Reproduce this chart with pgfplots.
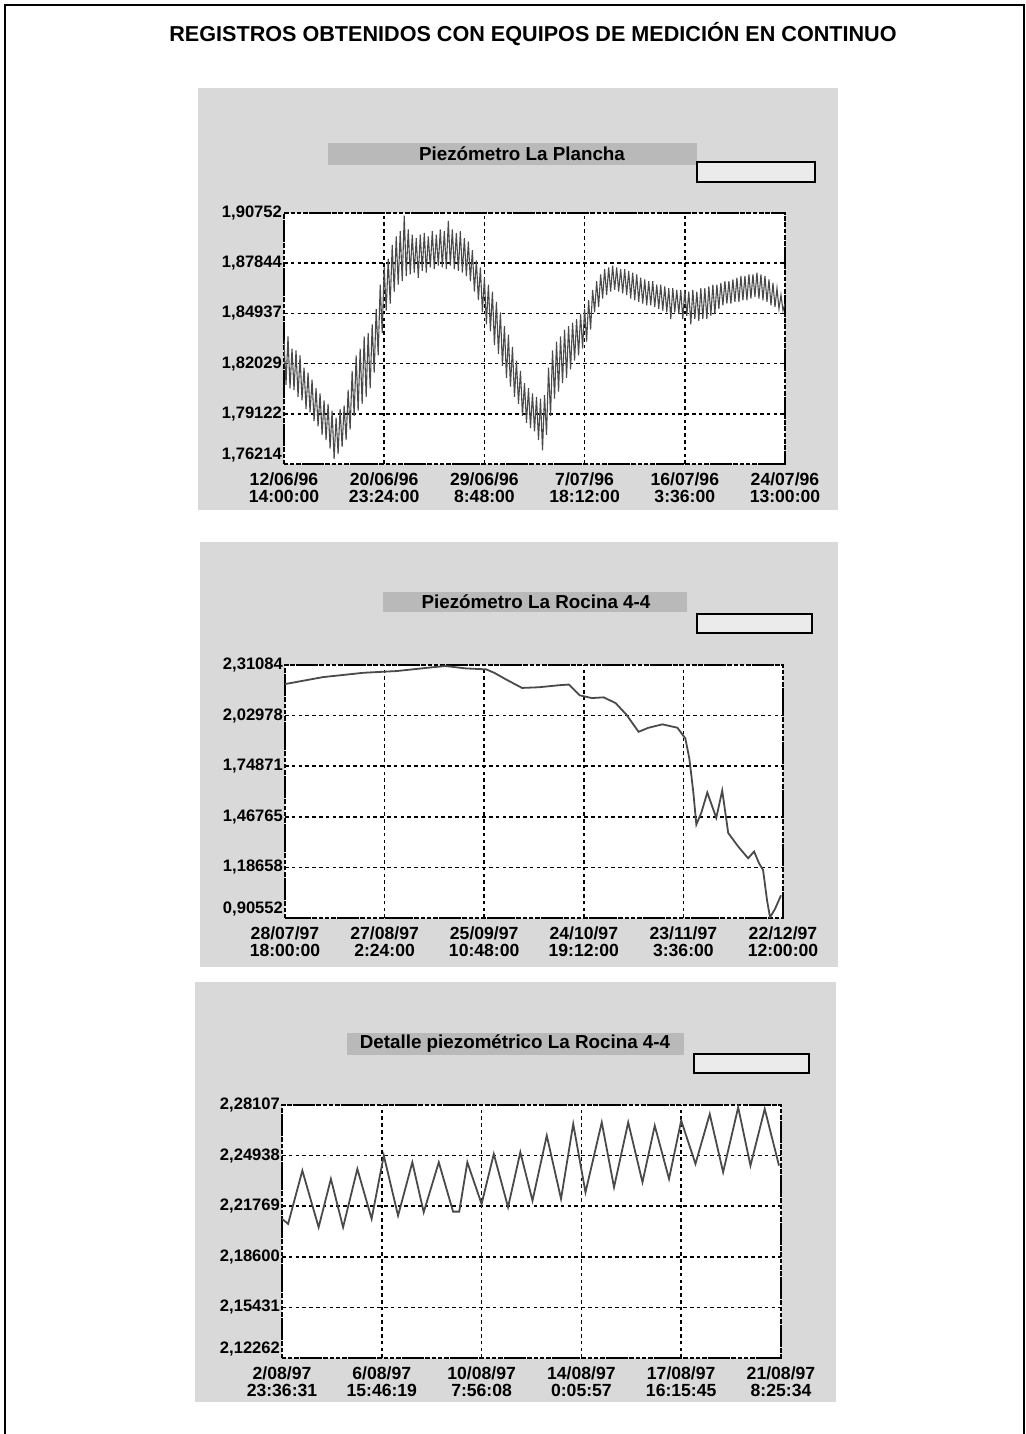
\documentclass[border=0pt]{standalone}
\usepackage{pgfplots}
\pgfplotsset{compat=1.18}
\usepackage{fontspec}
\setmainfont{Liberation Sans}

\definecolor{panelgray}{HTML}{D9D9D9}
\definecolor{bargray}{HTML}{B9B9B9}
\definecolor{boxgray}{HTML}{EBEBEB}
\definecolor{trace}{HTML}{4A4A4A}

\pgfplotsset{
  panel/.style={
    scale only axis, anchor=south west,
    xmin=0, xmax=5, xtick={0,1,2,3,4,5},
    grid=major,
    major grid style={black, line width=0.75pt, dash pattern=on 1.8pt off 1.6pt},
    axis line style={black, line width=1pt, dash pattern=on 2.2pt off 0.8pt},
    major tick length=0pt,
    axis background/.style={fill=white},
    yticklabel style={anchor=east, xshift=2.5pt, font=\bfseries\fontsize{8.3}{8.3}\selectfont},
    xticklabel style={align=center, yshift=-1pt, font=\bfseries\fontsize{8.8}{8.3}\selectfont},
    /pgf/number format/assume math mode=true,
    clip=true,
  },
}

\begin{document}
\begin{tikzpicture}
\useasboundingbox (0,0) rectangle (512.5pt,717pt);
\fill[white] (0,0) rectangle (512.5pt,717pt);
\draw[black, line width=1pt] (2.5pt,0pt) -- (2.5pt,714.5pt) -- (512pt,714.5pt) -- (512pt,0pt);

% main title
\node[font=\bfseries\fontsize{10.8}{12}\selectfont] at (266.5pt,700pt)
  {REGISTROS OBTENIDOS CON EQUIPOS DE MEDICIÓN EN CONTINUO};

% ---------- panel 1 frame ----------
\fill[panelgray] (99pt,462pt) rectangle (419pt,673pt);
\fill[bargray] (164pt,634.5pt) rectangle (348.5pt,645.5pt);
\node[font=\bfseries\fontsize{9.4}{10}\selectfont] at (261pt,640pt) {Piezómetro La Plancha};
\draw[black, line width=0.9pt, fill=boxgray] (348.5pt,626pt) rectangle (407.5pt,636pt);

% ---------- panel 2 frame ----------
\fill[panelgray] (100pt,233.5pt) rectangle (419pt,446pt);
\fill[bargray] (191.5pt,411pt) rectangle (343.5pt,421pt);
\node[font=\bfseries\fontsize{9.4}{10}\selectfont] at (268pt,416pt) {Piezómetro La Rocina 4-4};
\draw[black, line width=0.9pt, fill=boxgray] (348.5pt,400.5pt) rectangle (406pt,410pt);

% ---------- panel 3 frame ----------
\fill[panelgray] (97.5pt,16pt) rectangle (418pt,226pt);
\fill[bargray] (173.5pt,189.5pt) rectangle (342pt,200.5pt);
\node[font=\bfseries\fontsize{9.4}{10}\selectfont] at (257.5pt,195pt) {Detalle piezométrico La Rocina 4-4};
\draw[black, line width=0.9pt, fill=boxgray] (347pt,180.5pt) rectangle (404.5pt,190pt);

% ---------- axis 1 ----------
\begin{axis}[panel, at={(142pt,485pt)}, width=250.5pt, height=125.5pt,
  ymin=1.76214, ymax=1.90752,
  ytick={1.76214,1.79122,1.82029,1.84937,1.87844,1.90752},
  yticklabels={{\raisebox{10pt}{1,76214}},{1,79122},{1,82029},{1,84937},{1,87844},{1,90752}},
  xticklabels={{12/06/96\\14:00:00},{20/06/96\\23:24:00},{29/06/96\\8:48:00},{7/07/96\\18:12:00},{16/07/96\\3:36:00},{24/07/96\\13:00:00}},
]
\addplot[trace, line width=0.55pt] coordinates {
(0.00,1.834) (0.02,1.808) (0.04,1.836) (0.06,1.806) (0.08,1.829) (0.10,1.805)
(0.12,1.828) (0.14,1.801) (0.16,1.825) (0.18,1.799) (0.20,1.818) (0.22,1.794)
(0.24,1.815) (0.26,1.792) (0.28,1.811) (0.30,1.787) (0.32,1.806) (0.34,1.784)
(0.36,1.803) (0.38,1.779) (0.40,1.799) (0.42,1.776) (0.44,1.797) (0.46,1.771)
(0.48,1.793) (0.50,1.765) (0.52,1.789) (0.54,1.768) (0.56,1.794) (0.58,1.772)
(0.60,1.796) (0.62,1.776) (0.64,1.805) (0.66,1.782) (0.68,1.816) (0.70,1.790)
(0.72,1.825) (0.74,1.793) (0.76,1.829) (0.78,1.797) (0.80,1.836) (0.82,1.801)
(0.84,1.838) (0.86,1.806) (0.88,1.843) (0.90,1.815) (0.92,1.852) (0.94,1.825)
(0.96,1.866) (0.98,1.838) (1.00,1.876) (1.02,1.851) (1.04,1.881) (1.06,1.855)
(1.08,1.889) (1.10,1.862) (1.12,1.894) (1.14,1.866) (1.16,1.897) (1.18,1.868)
(1.20,1.906) (1.22,1.871) (1.24,1.898) (1.26,1.872) (1.28,1.895) (1.30,1.873)
(1.32,1.893) (1.34,1.870) (1.36,1.895) (1.38,1.874) (1.40,1.896) (1.42,1.873)
(1.44,1.894) (1.46,1.876) (1.48,1.897) (1.50,1.875) (1.52,1.895) (1.54,1.877)
(1.56,1.898) (1.58,1.876) (1.60,1.897) (1.62,1.875) (1.64,1.903) (1.66,1.877)
(1.68,1.898) (1.70,1.875) (1.72,1.896) (1.74,1.874) (1.76,1.897) (1.78,1.873)
(1.80,1.893) (1.82,1.871) (1.84,1.891) (1.86,1.868) (1.88,1.886) (1.90,1.862)
(1.92,1.880) (1.94,1.857) (1.96,1.876) (1.98,1.850) (2.00,1.870) (2.02,1.843)
(2.04,1.866) (2.06,1.839) (2.08,1.862) (2.10,1.831) (2.12,1.856) (2.14,1.826)
(2.16,1.850) (2.18,1.819) (2.20,1.842) (2.22,1.812) (2.24,1.837) (2.26,1.807)
(2.28,1.830) (2.30,1.801) (2.32,1.822) (2.34,1.797) (2.36,1.816) (2.38,1.790)
(2.40,1.809) (2.42,1.786) (2.44,1.806) (2.46,1.783) (2.48,1.803) (2.50,1.781)
(2.52,1.801) (2.54,1.776) (2.56,1.800) (2.58,1.770) (2.60,1.802) (2.62,1.779)
(2.64,1.818) (2.66,1.790) (2.68,1.828) (2.70,1.800) (2.72,1.833) (2.74,1.804)
(2.76,1.836) (2.78,1.809) (2.80,1.840) (2.82,1.812) (2.84,1.842) (2.86,1.817)
(2.88,1.844) (2.90,1.822) (2.92,1.846) (2.94,1.825) (2.96,1.849) (2.98,1.829)
(3.00,1.852) (3.02,1.833) (3.04,1.857) (3.06,1.840) (3.08,1.863) (3.10,1.850)
(3.12,1.868) (3.14,1.853) (3.16,1.872) (3.18,1.858) (3.20,1.875) (3.22,1.860)
(3.24,1.876) (3.26,1.862) (3.28,1.877) (3.30,1.863) (3.32,1.876) (3.34,1.862)
(3.36,1.875) (3.38,1.861) (3.40,1.875) (3.42,1.860) (3.44,1.874) (3.46,1.858)
(3.48,1.873) (3.50,1.857) (3.52,1.872) (3.54,1.856) (3.56,1.870) (3.58,1.855)
(3.60,1.869) (3.62,1.854) (3.64,1.868) (3.66,1.854) (3.68,1.868) (3.70,1.853)
(3.72,1.866) (3.74,1.852) (3.76,1.866) (3.78,1.851) (3.80,1.865) (3.82,1.850)
(3.84,1.864) (3.86,1.846) (3.88,1.864) (3.90,1.850) (3.92,1.863) (3.94,1.849)
(3.96,1.863) (3.98,1.846) (4.00,1.863) (4.02,1.848) (4.04,1.862) (4.06,1.843)
(4.08,1.863) (4.10,1.846) (4.12,1.862) (4.14,1.845) (4.16,1.864) (4.18,1.846)
(4.20,1.864) (4.22,1.846) (4.24,1.865) (4.26,1.848) (4.28,1.866) (4.30,1.849)
(4.32,1.866) (4.34,1.852) (4.36,1.867) (4.38,1.854) (4.40,1.868) (4.42,1.855)
(4.44,1.868) (4.46,1.855) (4.48,1.869) (4.50,1.856) (4.52,1.870) (4.54,1.856)
(4.56,1.871) (4.58,1.857) (4.60,1.871) (4.62,1.857) (4.64,1.872) (4.66,1.858)
(4.68,1.872) (4.70,1.859) (4.72,1.873) (4.74,1.858) (4.76,1.872) (4.78,1.857)
(4.80,1.871) (4.82,1.856) (4.84,1.869) (4.86,1.854) (4.88,1.867) (4.90,1.853)
(4.92,1.864) (4.94,1.852) (4.96,1.860) (4.98,1.851) (5.00,1.855)
};
\node[font=\bfseries\fontsize{8}{9}\selectfont] at (rel axis cs:-0.092,1.12) {M};
\end{axis}

% ---------- axis 2 ----------
\begin{axis}[panel, at={(142.5pt,258pt)}, width=249pt, height=126.5pt,
  ymin=0.90552, ymax=2.31084,
  ytick={0.90552,1.18658,1.46765,1.74871,2.02978,2.31084},
  yticklabels={{\raisebox{10pt}{0,90552}},{1,18658},{1,46765},{1,74871},{2,02978},{2,31084}},
  xticklabels={{28/07/97\\18:00:00},{27/08/97\\2:24:00},{25/09/97\\10:48:00},{24/10/97\\19:12:00},{23/11/97\\3:36:00},{22/12/97\\12:00:00}},
]
\addplot[trace, line width=0.9pt] coordinates {
(0.00,2.2059) (0.012,2.2060) (0.38,2.2434) (0.79,2.2677) (1.12,2.2771) (1.44,2.2959)
(1.61,2.3052) (1.81,2.2921) (2.02,2.2865) (2.10,2.2677) (2.22,2.2303) (2.38,2.1834)
(2.55,2.1872) (2.75,2.1984) (2.85,2.2022) (2.96,2.1422) (3.08,2.1272) (3.20,2.1310)
(3.32,2.0991) (3.43,2.0335) (3.55,1.9398) (3.65,1.9623) (3.79,1.9811) (3.94,1.9623)
(4.02,1.9024) (4.06,1.7899) (4.10,1.6025) (4.13,1.4245) (4.18,1.4901) (4.24,1.6025)
(4.33,1.4620) (4.39,1.6132) (4.45,1.3777) (4.55,1.3027) (4.65,1.2372) (4.71,1.2747)
(4.76,1.2090) (4.80,1.1716) (4.84,1.0029) (4.87,0.9092) (4.92,0.9561) (4.98,1.0311)
};
\node[font=\bfseries\fontsize{8}{9}\selectfont] at (rel axis cs:-0.094,1.12) {M};
\end{axis}

% ---------- axis 3 ----------
\begin{axis}[panel, at={(141pt,38pt)}, width=249.5pt, height=126.5pt,
  ymin=2.12262, ymax=2.28107,
  ytick={2.12262,2.15431,2.18600,2.21769,2.24938,2.28107},
  yticklabels={{\raisebox{10pt}{2,12262}},{2,15431},{2,18600},{2,21769},{2,24938},{2,28107}},
  xticklabels={{2/08/97\\23:36:31},{6/08/97\\15:46:19},{10/08/97\\7:56:08},{14/08/97\\0:05:57},{17/08/97\\16:15:45},{21/08/97\\8:25:34}},
]
\addplot[trace, line width=0.9pt] coordinates {
(0.000,2.2098) (0.061,2.2066) (0.204,2.2400) (0.367,2.2045) (0.490,2.2348) (0.612,2.2045)
(0.755,2.2410) (0.898,2.2098) (1.020,2.2494) (1.163,2.2118) (1.306,2.2452) (1.420,2.2139)
(1.571,2.2452) (1.714,2.2143) (1.776,2.2143) (1.857,2.2452) (2.000,2.2191) (2.122,2.2504)
(2.265,2.2171) (2.388,2.2515) (2.510,2.2212) (2.653,2.2619) (2.796,2.2223) (2.918,2.2692)
(3.041,2.2264) (3.204,2.2702) (3.327,2.2296) (3.469,2.2702) (3.612,2.2327) (3.735,2.2681)
(3.878,2.2348) (4.000,2.2713) (4.143,2.2442) (4.286,2.2754) (4.420,2.2390) (4.571,2.2796)
(4.694,2.2431) (4.837,2.2786) (4.980,2.2431)
};
\node[font=\bfseries\fontsize{8}{9}\selectfont] at (rel axis cs:-0.09,1.11) {M};
\end{axis}
\end{tikzpicture}
\end{document}
